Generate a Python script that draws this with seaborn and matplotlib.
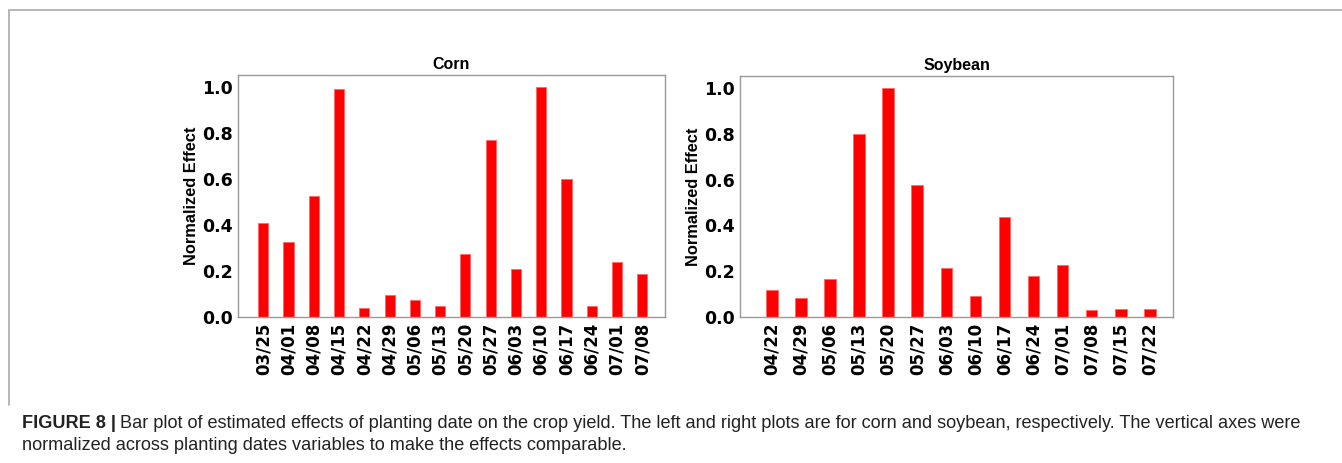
import matplotlib
matplotlib.use("Agg")
import matplotlib.pyplot as plt
import seaborn as sns
import pandas as pd
from matplotlib.lines import Line2D

corn_dates = ["03/25", "04/01", "04/08", "04/15", "04/22", "04/29", "05/06", "05/13",
              "05/20", "05/27", "06/03", "06/10", "06/17", "06/24", "07/01", "07/08"]
corn_effect = [0.409, 0.326, 0.528, 0.990, 0.039, 0.097, 0.072, 0.049,
               0.272, 0.771, 0.210, 1.000, 0.599, 0.046, 0.239, 0.188]

soy_dates = ["04/22", "04/29", "05/06", "05/13", "05/20", "05/27", "06/03", "06/10",
             "06/17", "06/24", "07/01", "07/08", "07/15", "07/22"]
soy_effect = [0.120, 0.083, 0.167, 0.801, 1.000, 0.575, 0.213, 0.091,
              0.435, 0.177, 0.226, 0.030, 0.033, 0.035]

y_ticks = [0.0, 0.2, 0.4, 0.6, 0.8, 1.0]

sns.set_style("white")
plt.rcParams['font.family'] = ['Liberation Sans', 'DejaVu Sans']
plt.rcParams['text.color'] = 'black'
plt.rcParams['axes.labelcolor'] = 'black'
plt.rcParams['xtick.color'] = 'black'
plt.rcParams['ytick.color'] = 'black'

W, H = 1342, 463
fig = plt.figure(figsize=(W / 100, H / 100), dpi=100)

def draw(ax, dates, vals, title, xlim):
    df = pd.DataFrame({"date": dates, "effect": vals})
    sns.barplot(data=df, x="date", y="effect", color="#ff0000", width=0.4,
                saturation=1, edgecolor="#ff6666", linewidth=0.6, ax=ax)
    ax.set_xlim(*xlim)
    ax.set_ylim(0, 1.052)
    ax.set_yticks(y_ticks)
    ax.set_yticklabels([f"{t:.1f}" for t in y_ticks], fontsize=12.5, fontweight="bold",
                       family="DejaVu Sans")
    ax.set_xticks(range(len(dates)))
    ax.set_xticklabels(dates, rotation=90, fontsize=12, fontweight="bold",
                       family="DejaVu Sans")
    ax.set_xlabel("")
    ax.set_ylabel("Normalized Effect", fontsize=11.8, fontweight="bold", labelpad=2)
    ax.set_title(title, fontsize=11.5, fontweight="bold", pad=4)
    for s in ax.spines.values():
        s.set_visible(True)
        s.set_color("#999999")
        s.set_linewidth(1.0)
    ax.tick_params(axis="both", length=2, width=0.8, color="#999999", pad=2,
                   labelcolor="black")

ax1 = fig.add_axes([238 / W, 1 - 317 / H, (665 - 238) / W, (317 - 75) / H])
ax2 = fig.add_axes([740 / W, 1 - 317 / H, (1173 - 740) / W, (317 - 76) / H])
draw(ax1, corn_dates, corn_effect, "Corn", (-1.0, 15.9))
draw(ax2, soy_dates, soy_effect, "Soybean", (-1.1, 13.8))

# figure frame lines (top and left)
fig.add_artist(Line2D([9 / W, 1.0], [1 - 10 / H, 1 - 10 / H], color="#aaaaaa", lw=1.2,
                      transform=fig.transFigure))
fig.add_artist(Line2D([9 / W, 9 / W], [1 - 10 / H, 1 - 405 / H], color="#aaaaaa", lw=1.2,
                      transform=fig.transFigure))

# caption
cap_size = 13.1
t1 = fig.text(22 / W, 1 - 423 / H, "FIGURE 8 |", fontsize=cap_size, fontweight="bold",
              va="center", ha="left", color="#222222")
fig.canvas.draw()
bb = t1.get_window_extent()
fig.text((bb.x1 + 4) / W, 1 - 423 / H,
         "Bar plot of estimated effects of planting date on the crop yield. The left and right plots are for corn and soybean, respectively. The vertical axes were",
         fontsize=cap_size, va="center", ha="left", color="#222222")
fig.text(22 / W, 1 - 446 / H,
         "normalized across planting dates variables to make the effects comparable.",
         fontsize=cap_size, va="center", ha="left", color="#222222")

fig.savefig("out.png", dpi=100)
